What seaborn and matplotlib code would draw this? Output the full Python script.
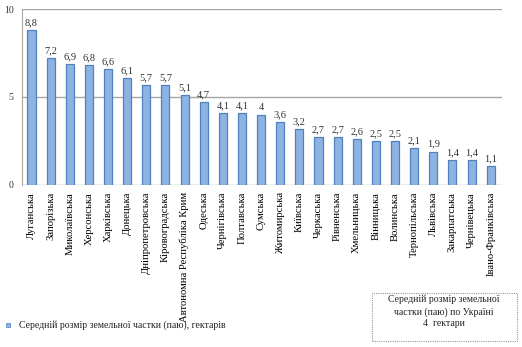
import matplotlib
matplotlib.use("Agg")
import matplotlib.pyplot as plt
import seaborn as sns
import pandas as pd
from matplotlib.patches import Rectangle

regions = ["Луганська", "Запорізька", "Миколаївська", "Херсонська", "Харківська",
           "Донецька", "Дніпропетровська", "Кіровоградська",
           "Автономна Республіка Крим", "Одеська", "Чернігівська", "Полтавська",
           "Сумська", "Житомирська", "Київська", "Черкаська", "Рівненська",
           "Хмельницька", "Вінницька", "Волинська", "Тернопільська", "Львівська",
           "Закарпатська", "Чернівецька", "Івано-Франківська"]
values = [8.8, 7.2, 6.9, 6.8, 6.6, 6.1, 5.7, 5.7, 5.1, 4.7, 4.1, 4.1, 4.0, 3.6,
          3.2, 2.7, 2.7, 2.6, 2.5, 2.5, 2.1, 1.9, 1.4, 1.4, 1.1]
y_ticks = [0, 5, 10]
series_name = "Середній розмір земельної частки (паю), гектарів"
note_text = "Середній розмір земельної\nчастки (паю) по Україні\n4  гектари"

sns.set_style("white")
plt.rcParams['font.family'] = ['Liberation Serif', 'DejaVu Serif']

df = pd.DataFrame({"region": regions, "value": values})

fig = plt.figure(figsize=(5.22, 3.47), dpi=100)
ax = fig.add_axes([0.042, 0.467, 0.92, 0.507])

sns.barplot(data=df, x="region", y="value", color="#8DB3E2", width=0.42,
            edgecolor="#4F81BD", linewidth=0.9, saturation=1, ax=ax, zorder=3)

for c in ax.containers:
    ax.bar_label(c, labels=[f"{v:g}".replace(".", ",") for v in values],
                 padding=2, fontsize=7.5, color="#333333")

ax.set_ylim(0, 10)
ax.set_xlim(-0.5, 24.6)
ax.set_yticks(y_ticks)
ax.set_yticklabels([str(t) for t in y_ticks], fontsize=7, color="#333333")
for t in [5, 10]:
    ax.axhline(t, color="#A6A6A6", linewidth=1.0, zorder=1)
ax.axhline(0, color="#A6A6A6", linewidth=1.0, zorder=1)

ax.set_xlabel("")
ax.set_ylabel("")
ax.tick_params(axis="x", labelrotation=90, labelsize=7.7, length=3, color="#808080",
               pad=2, labelcolor="black")
ax.tick_params(axis="y", length=3, color="#808080", pad=3)
for s in ["top", "right", "bottom"]:
    ax.spines[s].set_visible(False)
ax.spines["left"].set_color("#A6A6A6")

# legend
fig.patches.append(Rectangle((6 / 522, 1 - 327 / 347), 4 / 522, 4 / 347,
                             transform=fig.transFigure, facecolor="#8DB3E2",
                             edgecolor="#4F81BD", linewidth=0.5))
fig.text(19 / 522, 1 - 325 / 347, series_name, fontsize=7, va="center", ha="left",
         color="#222222")

# note box
fig.patches.append(Rectangle((372 / 522, 1 - 341 / 347), 145 / 522, 48 / 347,
                             transform=fig.transFigure, facecolor="white",
                             edgecolor="#999999", linewidth=0.8, linestyle=(0, (1, 1))))
fig.text(444 / 522, 1 - 295 / 347, note_text, fontsize=7, va="top", ha="center",
         color="#222222", linespacing=1.35)

fig.savefig("out.png", dpi=100)
